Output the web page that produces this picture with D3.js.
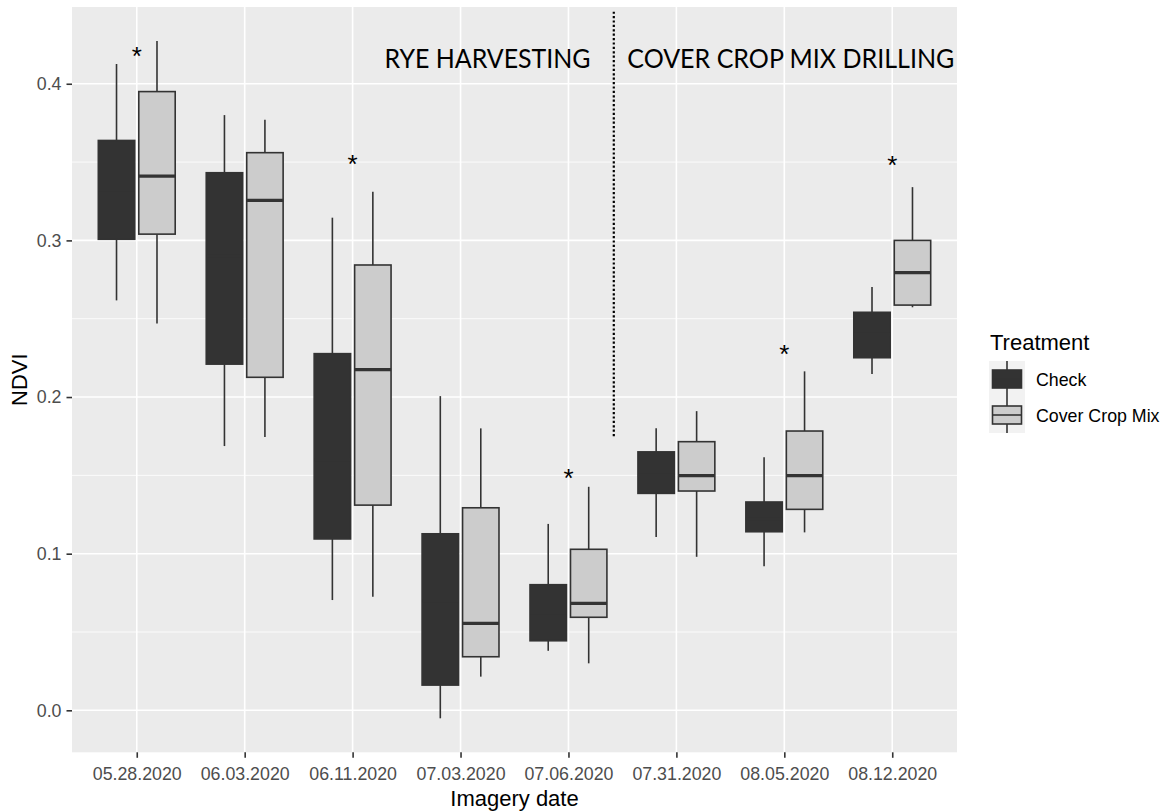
<!DOCTYPE html>
<html><head><meta charset="utf-8">
<script src="https://cdn.jsdelivr.net/npm/d3@7"></script>
<style>body{margin:0;background:#fff}svg{display:block}</style>
</head><body><svg id="c" width="1165" height="812"></svg>
<script>
// ---------- data ----------
const categories = ["05.28.2020","06.03.2020","06.11.2020","07.03.2020","07.06.2020","07.31.2020","08.05.2020","08.12.2020"];
const treatments = ["Check","Cover Crop Mix"];
const yTicks = [0.0, 0.1, 0.2, 0.3, 0.4];
const yMinorTicks = [0.05, 0.15, 0.25, 0.35];

const checkMin    = [0.2617, 0.1687, 0.0704, -0.0051, 0.0380, 0.1106, 0.0920, 0.2147];
const checkQ1     = [0.3007, 0.2210, 0.1094,  0.0161, 0.0444, 0.1385, 0.1140, 0.2251];
const checkMedian = [0.3300, 0.2900, 0.1600,  0.0700, 0.0600, 0.1500, 0.1220, 0.2400];
const checkQ3     = [0.3638, 0.3432, 0.2277,  0.1127, 0.0802, 0.1650, 0.1330, 0.2541];
const checkMax    = [0.4126, 0.3800, 0.3145,  0.2006, 0.1190, 0.1800, 0.1615, 0.2702];

const coverMin    = [0.2470, 0.1745, 0.0725, 0.0215, 0.0300, 0.0980, 0.1136, 0.2573];
const coverQ1     = [0.3040, 0.2126, 0.1310, 0.0342, 0.0594, 0.1400, 0.1283, 0.2587];
const coverMedian = [0.3410, 0.3256, 0.2175, 0.0555, 0.0683, 0.1498, 0.1498, 0.2794];
const coverQ3     = [0.3950, 0.3560, 0.2843, 0.1293, 0.1028, 0.1715, 0.1783, 0.3000];
const coverMax    = [0.4273, 0.3770, 0.3310, 0.1800, 0.1427, 0.1910, 0.2164, 0.3340];

const starCategories = ["05.28.2020","06.11.2020","07.06.2020","08.05.2020","08.12.2020"];
const starValues     = [0.4215, 0.3526, 0.1523, 0.2313, 0.3520];

const dividerPos = 5.42;              // category position (1-based)
const dividerRange = [0.175, 0.446];  // NDVI
const annoLabels = ["RYE HARVESTING", "COVER CROP MIX DRILLING"];
const annoPos    = [4.25, 7.06];      // category position (1-based), centre
const annoValue  = [0.410, 0.410];    // baseline NDVI

// ---------- layout ----------
const svg = d3.select("#c");
svg.append("rect").attr("width",1165).attr("height",812).attr("fill","#fff");
const P = {left:72, right:957, top:7, bottom:752.3};
const x = d3.scalePoint().domain(categories).range([P.left, P.right]).padding(0.6);
const step = x.step();
const xPos = v => x(categories[0]) + (v - 1) * step;
const y = d3.scaleLinear().domain([-0.0268, 0.449]).range([P.bottom, P.top]);
const FONT = "'Liberation Sans', Arial, sans-serif";
const INK = "#333333";

// panel
svg.append("rect").attr("x",P.left).attr("y",P.top)
  .attr("width",P.right-P.left).attr("height",P.bottom-P.top).attr("fill","#EBEBEB");
const grid = svg.append("g");
grid.selectAll("line.minor").data(yMinorTicks).join("line")
  .attr("x1",P.left).attr("x2",P.right).attr("y1",d=>y(d)).attr("y2",d=>y(d))
  .attr("stroke","#fff").attr("stroke-width",0.8);
grid.selectAll("line.majy").data(yTicks).join("line")
  .attr("x1",P.left).attr("x2",P.right).attr("y1",d=>y(d)).attr("y2",d=>y(d))
  .attr("stroke","#fff").attr("stroke-width",1.6);
grid.selectAll("line.majx").data(categories).join("line")
  .attr("x1",d=>x(d)).attr("x2",d=>x(d)).attr("y1",P.top).attr("y2",P.bottom)
  .attr("stroke","#fff").attr("stroke-width",1.6);

// boxes
const boxW = step * 0.375 * 0.9;
const series = [
  {name:treatments[0], fill:"#333333", off:-0.1875, mn:checkMin, q1:checkQ1, md:checkMedian, q3:checkQ3, mx:checkMax},
  {name:treatments[1], fill:"#CCCCCC", off: 0.1875, mn:coverMin, q1:coverQ1, md:coverMedian, q3:coverQ3, mx:coverMax}
];
series.forEach(s => {
  const g = svg.append("g");
  categories.forEach((c,i) => {
    const cx = x(c) + s.off*step;
    g.append("line").attr("x1",cx).attr("x2",cx).attr("y1",y(s.q3[i])).attr("y2",y(s.mx[i]))
      .attr("stroke",INK).attr("stroke-width",1.6);
    g.append("line").attr("x1",cx).attr("x2",cx).attr("y1",y(s.q1[i])).attr("y2",y(s.mn[i]))
      .attr("stroke",INK).attr("stroke-width",1.6);
    g.append("rect").attr("x",cx-boxW/2).attr("width",boxW)
      .attr("y",y(s.q3[i])).attr("height",y(s.q1[i])-y(s.q3[i]))
      .attr("fill",s.fill).attr("stroke",INK).attr("stroke-width",1.6);
    g.append("line").attr("x1",cx-boxW/2).attr("x2",cx+boxW/2)
      .attr("y1",y(s.md[i])).attr("y2",y(s.md[i]))
      .attr("stroke",INK).attr("stroke-width",3.2);
  });
});

// significance stars
svg.append("g").selectAll("text").data(starCategories).join("text")
  .attr("x",d=>x(d)).attr("y",(d,i)=>y(starValues[i]) + 15)
  .attr("text-anchor","middle").attr("font-family",FONT).attr("font-size",26)
  .attr("fill","#000").text("*");

// divider
svg.append("line").attr("x1",xPos(dividerPos)).attr("x2",xPos(dividerPos))
  .attr("y1",y(dividerRange[0])).attr("y2",y(dividerRange[1]))
  .attr("stroke","#000").attr("stroke-width",2.2).attr("stroke-dasharray","2.2,2.2");

// annotations
const targetW = [206, 327];
svg.append("g").selectAll("text").data(annoLabels).join("text")
  .attr("x",(d,i)=>xPos(annoPos[i])).attr("y",(d,i)=>y(annoValue[i]))
  .attr("text-anchor","middle").attr("font-family","Lato, 'Open Sans', sans-serif")
  .attr("font-size",26.5).attr("fill","#000").text(d=>d)
  .each(function(d,i){
    const w = this.getComputedTextLength();
    if (Math.abs(w-targetW[i])>2) { this.setAttribute("textLength",targetW[i]); this.setAttribute("lengthAdjust","spacingAndGlyphs"); }
  });

// axes
const yAxis = svg.append("g").attr("transform",`translate(${P.left},0)`)
  .call(d3.axisLeft(y).tickValues(yTicks).tickFormat(d3.format(".1f")).tickSize(5.5).tickPadding(5));
const xAxis = svg.append("g").attr("transform",`translate(0,${P.bottom})`)
  .call(d3.axisBottom(x).tickSize(5.5).tickPadding(4));
[yAxis,xAxis].forEach(a=>{
  a.select(".domain").remove();
  a.selectAll(".tick line").attr("stroke",INK).attr("stroke-width",1.6);
  a.selectAll(".tick text").attr("fill","#4D4D4D").attr("font-family",FONT).attr("font-size",17.8);
});
xAxis.selectAll(".tick text").attr("dy",null).attr("y",28);

svg.append("text").attr("x",(P.left+P.right)/2).attr("y",806).attr("text-anchor","middle")
  .attr("font-family",FONT).attr("font-size",22).attr("fill","#000").text("Imagery date");
svg.append("text").attr("transform",`translate(27,${(P.top+P.bottom)/2}) rotate(-90)`)
  .attr("text-anchor","middle").attr("font-family",FONT).attr("font-size",22).attr("fill","#000").text("NDVI");

// legend
const L = svg.append("g");
L.append("text").attr("x",990).attr("y",349.5).attr("font-family",FONT).attr("font-size",22)
  .attr("fill","#000").text("Treatment");
const keyX = 989, keyW = 36, keyH = 36, keyY0 = 361;
series.forEach((s,i)=>{
  const ky = keyY0 + i*keyH, cx = keyX + keyW/2, cy = ky + keyH/2;
  L.append("rect").attr("x",keyX).attr("y",ky).attr("width",keyW).attr("height",keyH).attr("fill","#F2F2F2");
  L.append("line").attr("x1",cx).attr("x2",cx).attr("y1",ky).attr("y2",ky+keyH).attr("stroke",INK).attr("stroke-width",1.6);
  L.append("rect").attr("x",keyX+3.5).attr("y",cy-9).attr("width",keyW-7).attr("height",18)
    .attr("fill",s.fill).attr("stroke",INK).attr("stroke-width",1.6);
  L.append("line").attr("x1",keyX+3.5).attr("x2",keyX+keyW-3.5).attr("y1",cy).attr("y2",cy).attr("stroke",INK).attr("stroke-width",1.6);
  L.append("text").attr("x",1036).attr("y",cy+6.5).attr("font-family",FONT).attr("font-size",17.8)
    .attr("fill","#000").text(s.name);
});
</script></body></html>
